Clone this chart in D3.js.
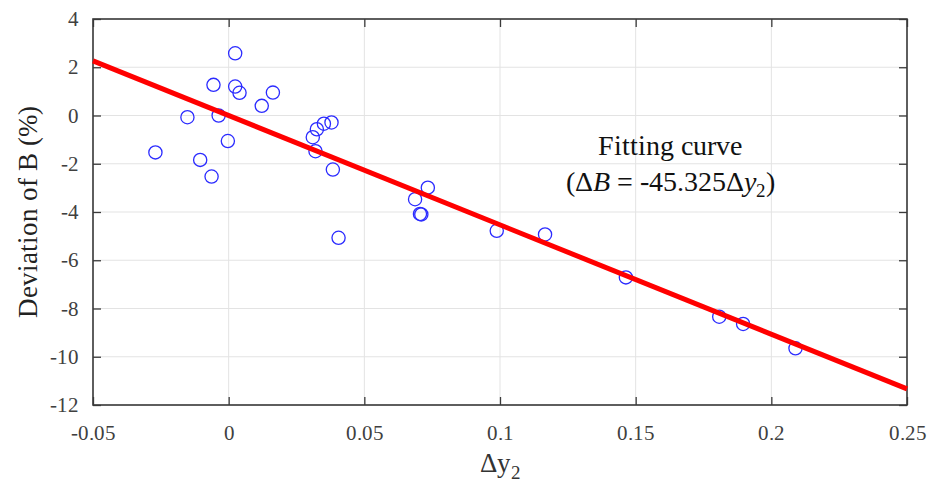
<!DOCTYPE html>
<html>
<head>
<meta charset="utf-8">
<script src="https://cdn.jsdelivr.net/npm/d3@7"></script>
<style>
  @font-face {
    font-family: "ChartSerif";
    src: local("Liberation Serif"), local("LiberationSerif-Regular"), local("DejaVu Serif"), local("DejaVuSerif");
    font-style: normal;
  }
  @font-face {
    font-family: "ChartSerif";
    src: local("Liberation Serif Italic"), local("LiberationSerif-Italic"), local("DejaVu Serif Italic"), local("DejaVuSerif-Italic");
    font-style: italic;
  }
  body { margin: 0; background: #fff; }
  svg { display: block; }
  svg text { font-family: ChartSerif, Liberation Serif, DejaVu Serif, serif !important; }
</style>
</head>
<body>
<svg id="chart" width="931" height="484"></svg>
<script>
// Measured samples: change of y2 vs deviation of B (%)
const dy2 = [
  0.0024, -0.0056, 0.0024, 0.0040, 0.0163, 0.0122, -0.0152, -0.0037,
  -0.0003, -0.0270, -0.0105, -0.0063,
  0.0379, 0.0351, 0.0325, 0.0310, 0.0320, 0.0384, 0.0405,
  0.0734, 0.0687, 0.0705, 0.0710,
  0.0988, 0.1166, 0.1464, 0.1808, 0.1896, 0.2089
];
const devB = [
  2.58, 1.27, 1.20, 0.94, 0.95, 0.40, -0.07, 0.00,
  -1.06, -1.53, -1.84, -2.53,
  -0.29, -0.34, -0.57, -0.90, -1.48, -2.24, -5.07,
  -2.99, -3.47, -4.08, -4.10,
  -4.78, -4.93, -6.71, -8.34, -8.64, -9.65
];

// Linear fit through the origin: ΔB = fitSlope · Δy2
const fitSlope = -45.325;

const xTicks = [-0.05, 0, 0.05, 0.1, 0.15, 0.2, 0.25];
const xTickLabels = ["-0.05", "0", "0.05", "0.1", "0.15", "0.2", "0.25"];
const yTicks = [4, 2, 0, -2, -4, -6, -8, -10, -12];
const yTickLabels = ["4", "2", "0", "-2", "-4", "-6", "-8", "-10", "-12"];

const SERIF = "ChartSerif, Liberation Serif, DejaVu Serif, serif";

const W = 931, H = 484;
const margin = { top: 19, right: 24, bottom: 79, left: 93 };
const iw = W - margin.left - margin.right;
const ih = H - margin.top - margin.bottom;

const svg = d3.select("#chart").attr("font-family", SERIF);
const g = svg.append("g").attr("transform", `translate(${margin.left},${margin.top})`);

const x = d3.scaleLinear().domain([-0.05, 0.25]).range([0, iw]);
const y = d3.scaleLinear().domain([-12, 4]).range([ih, 0]);

// grid
g.append("g")
  .selectAll("line")
  .data(xTicks)
  .join("line")
  .attr("x1", d => x(d)).attr("x2", d => x(d))
  .attr("y1", 0).attr("y2", ih)
  .attr("stroke", "#e3e3e3").attr("stroke-width", 1);
g.append("g")
  .selectAll("line")
  .data(yTicks)
  .join("line")
  .attr("x1", 0).attr("x2", iw)
  .attr("y1", d => y(d)).attr("y2", d => y(d))
  .attr("stroke", "#e3e3e3").attr("stroke-width", 1);

const axisColor = "#3a3a3a";
const tickLen = 8;

function styleAxis(sel) {
  sel.attr("font-family", SERIF).attr("font-size", 21);
  sel.select(".domain").remove();
  sel.selectAll(".tick line").attr("stroke", axisColor).attr("stroke-width", 1.3);
  sel.selectAll(".tick text")
    .attr("fill", "#404040")
    .style("font-size", "21px");
}

// bottom axis: inward ticks, labels below
const xAxisB = g.append("g")
  .attr("transform", `translate(0,${ih})`)
  .call(d3.axisBottom(x).tickValues(xTicks)
    .tickFormat((d, i) => xTickLabels[i])
    .tickSizeInner(-tickLen).tickSizeOuter(0).tickPadding(20));
styleAxis(xAxisB);

// top axis: inward ticks only
const xAxisT = g.append("g")
  .call(d3.axisTop(x).tickValues(xTicks).tickFormat("")
    .tickSizeInner(-tickLen).tickSizeOuter(0));
styleAxis(xAxisT);

// left axis
const yAxisL = g.append("g")
  .call(d3.axisLeft(y).tickValues(yTicks)
    .tickFormat((d, i) => yTickLabels[i])
    .tickSizeInner(-tickLen).tickSizeOuter(0).tickPadding(14));
styleAxis(yAxisL);

// right axis
const yAxisR = g.append("g")
  .attr("transform", `translate(${iw},0)`)
  .call(d3.axisRight(y).tickValues(yTicks).tickFormat("")
    .tickSizeInner(-tickLen).tickSizeOuter(0));
styleAxis(yAxisR);

// frame
g.append("rect")
  .attr("x", 0).attr("y", 0).attr("width", iw).attr("height", ih)
  .attr("fill", "none").attr("stroke", axisColor).attr("stroke-width", 1.6);

// data markers
const pts = dy2.map((v, i) => ({ x: v, y: devB[i] }));
g.append("g")
  .selectAll("circle")
  .data(pts)
  .join("circle")
  .attr("cx", d => x(d.x))
  .attr("cy", d => y(d.y))
  .attr("r", 6.6)
  .attr("fill", "none")
  .attr("stroke", "#2b2bff")
  .attr("stroke-width", 1.3);

// fitted line
const fitLine = d3.line().x(d => x(d)).y(d => y(fitSlope * d));
g.append("path")
  .datum(x.domain())
  .attr("d", fitLine)
  .attr("fill", "none")
  .attr("stroke", "#ff0000")
  .attr("stroke-width", 5);

// annotation
svg.append("text")
  .attr("x", 670).attr("y", 155)
  .attr("text-anchor", "middle")
  .attr("fill", "#111")
  .style("font-size", "28px")
  .text("Fitting curve");
const ann2 = svg.append("text")
  .attr("x", 670).attr("y", 191)
  .attr("text-anchor", "middle")
  .attr("fill", "#111")
  .style("font-size", "28px");
ann2.append("tspan").text("(Δ");
ann2.append("tspan").style("font-style", "italic").text("B");
ann2.append("tspan").text(" = " + String(fitSlope) + "Δ");
ann2.append("tspan").style("font-style", "italic").text("y");
ann2.append("tspan").attr("dy", 6).style("font-size", "19px").text("2");
ann2.append("tspan").attr("dy", -6).text(")");

// axis titles
const xt = svg.append("text")
  .attr("x", margin.left + iw / 2)
  .attr("y", 472)
  .attr("text-anchor", "middle")
  .attr("fill", "#333")
  .style("font-size", "27px");
xt.append("tspan").text("Δy");
xt.append("tspan").attr("dy", 7).style("font-size", "19px").text("2");

svg.append("text")
  .attr("transform", `translate(37,${margin.top + ih / 2}) rotate(-90)`)
  .attr("text-anchor", "middle")
  .attr("fill", "#222")
  .style("font-size", "27px")
  .text("Deviation of B (%)");
</script>
</body>
</html>
